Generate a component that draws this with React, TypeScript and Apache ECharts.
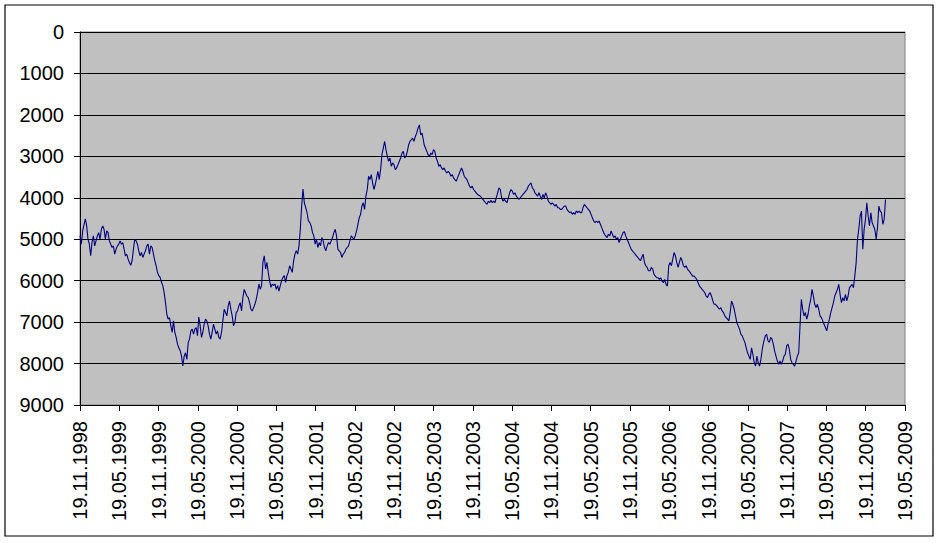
import React, { useEffect, useRef } from "react";
import * as echarts from "echarts";

// x positions are measured in half-years since 19.11.1998
const tickLabels = [
  "19.11.1998", "19.05.1999", "19.11.1999", "19.05.2000", "19.11.2000", "19.05.2001",
  "19.11.2001", "19.05.2002", "19.11.2002", "19.05.2003", "19.11.2003", "19.05.2004",
  "19.11.2004", "19.05.2005", "19.11.2005", "19.05.2006", "19.11.2006", "19.05.2007",
  "19.11.2007", "19.05.2008", "19.11.2008", "19.05.2009",
];

const STEP = 0.034; // spacing of the readings, in half-years (~6 days)

const seg1Start = 0;
const seg1 = [
  4920, 5120, 4800, 4650, 4510, 4680, 5000, 5120, 5400, 5080, 4920, 5160, 5040, 4920, 4840, 5000,
  4760, 4680, 4760, 5000, 4800, 4840, 5040, 5120, 5200, 5160, 5360, 5240, 5160, 5120, 5040, 5120,
  5080, 5240, 5400, 5360, 5480, 5560, 5630, 5520, 5240, 5000, 5040, 5120, 5280, 5400, 5320, 5440,
  5360, 5280, 5160, 5120, 5360, 5160, 5200, 5360, 5520, 5640, 5800, 5880, 5920, 6040, 6120, 6290,
  6530, 6810, 6930, 6890, 7090, 7250, 6970, 7250, 7370, 7530, 7620, 7690, 7820, 8060, 7820, 7740,
  7900, 7490, 7410, 7210, 7170, 7290, 7170, 7130,
];

const seg2Start = 2.99;
const seg2 = [
  7330, 6880, 7080, 7370, 7250, 7050, 6930, 6970, 7090, 7290, 7410, 7250, 7050, 7170, 7290, 7210,
  7370, 7410, 7250, 6970, 6690, 6770, 6850, 6610, 6490, 6690, 6850, 7090, 7010, 6770, 6730, 6610,
  6530, 6730, 6410, 6210, 6290, 6370, 6410, 6530, 6690, 6730, 6650, 6570, 6450, 6290, 6080, 6210,
  6120, 5560, 5400, 5720, 5560, 5800, 6000, 6160, 6080, 6120, 6080, 6210, 6120, 6250, 6120, 6000,
  5920, 5880, 6040, 5880, 5800, 5640, 5720, 5800, 5520, 5360, 5280, 5360, 5160, 4760, 4200, 3790,
  4120, 4230, 4350, 4550,
];

const seg3Start = 5.85;
const seg3 = [
  4600, 4680, 4840, 4920, 5120, 5000, 5200, 5080, 5160, 4960, 5040, 5200, 5280, 5160, 5080, 5120,
  5040, 4960, 4840, 4760, 4920, 5240, 5280, 5320, 5440, 5360, 5320, 5240, 5200, 5160, 5040, 4920,
  4960, 5000, 4920, 4800, 4640, 4480, 4400, 4200, 4120, 4280, 3960, 3800, 3480, 3560, 3440, 3640,
  3800, 3680, 3520, 3360, 3560, 3320, 2960, 2800, 2640, 2840, 3000, 3120, 3040, 3240, 3160, 3200,
  3320, 3280, 3200, 3120, 3040, 2920, 2880, 3040, 3000, 2880, 2720, 2640, 2600, 2560, 2640, 2520,
  2440, 2320, 2240, 2480, 2440, 2600,
];

const seg4Start = 8.76;
const seg4 = [
  2720, 2800, 2880, 2960, 3000, 2920, 2960, 2840, 2880, 3040, 3120, 3240, 3200, 3280, 3320, 3280,
  3360, 3400, 3360, 3400, 3480, 3440, 3520, 3560, 3600, 3520, 3440, 3360, 3280, 3360, 3480, 3520,
  3560, 3640, 3720, 3760, 3720, 3800, 3840, 3880, 3920, 3940, 3960, 4000, 4040, 4080, 4120, 4160,
  4080, 4120, 4060, 4120, 4080, 4120, 4000, 3880, 3760, 3800, 4000, 4080, 4040, 4080, 4120, 4000,
  3880, 3800, 3840, 3920, 3880, 3960, 4000, 4040, 4000, 3960, 3920, 3880, 3840, 3800, 3720, 3680,
  3640, 3760, 3800,
];

const seg5Start = 11.58;
const seg5 = [
  3880, 3920, 3960, 3880, 3960, 4040, 3920, 4000, 3880, 3960, 4080, 4120, 4160, 4120, 4160, 4200,
  4160, 4240, 4240, 4280, 4280, 4240, 4200, 4200, 4280, 4320, 4360, 4340, 4400, 4360, 4400, 4320,
  4360, 4320, 4360, 4360, 4240, 4160, 4200, 4240, 4280, 4320, 4400, 4480, 4560, 4600, 4560, 4600,
  4560, 4640, 4720, 4800, 4880, 4920, 4960, 4880, 4920, 4800, 4880, 4960, 4920, 5000, 4960, 5080,
  5000, 4920, 4840, 4820, 4920, 5000, 5080, 5160, 5240, 5280, 5320, 5360, 5400, 5440, 5480, 5520,
  5440, 5360, 5560, 5640, 5680, 5760,
];

const seg6Start = 14.51;
const seg6 = [
  5760, 5680, 5720, 5850, 5890, 5930, 5930, 5970, 5930, 6010, 6050, 5970, 6090, 6130, 5640, 5560,
  5640, 5480, 5320, 5400, 5560, 5680, 5560, 5440, 5520, 5640, 5680, 5640, 5720, 5760, 5800, 5850,
  5890, 5890, 5930, 5970, 6050, 6130, 6170, 6210, 6250, 6290, 6370, 6410, 6330, 6290, 6370, 6490,
  6570, 6570, 6610, 6650, 6690, 6650, 6730, 6770, 6850, 6890, 6930, 6970, 6770, 6490, 6570, 6690,
  6850, 7010, 7090, 7170, 7290, 7330, 7410, 7490, 7620, 7740, 7820, 7900, 7620, 7780, 7980, 8060,
  7820, 7980, 8060, 7900, 7660, 7490,
];

const seg7Start = 17.41;
const seg7 = [
  7490, 7330, 7290, 7450, 7490, 7370, 7410, 7530, 7700, 7820, 7940, 8020, 7940, 8020, 7940, 7820,
  7780, 7570, 7530, 7660, 7900, 7980, 8020, 8060, 7940, 7820, 7740, 7090, 6450, 6690, 6850, 6770,
  6930, 6810, 6610, 6450, 6210, 6370, 6570, 6650, 6570, 6690, 6850, 6890, 6970, 7050, 7130, 7210,
  7050, 6930, 6770, 6650, 6530, 6370, 6290, 6210, 6090, 6330, 6530, 6410, 6490, 6330, 6490, 6370,
  6170, 6130, 6090, 6170, 5890, 5570, 5000, 4760, 4440, 4320, 5240, 4760, 4520, 4120, 4440, 4680,
  4360, 4600, 4680, 4760, 5000, 4720, 4200, 4320, 4360, 4640, 4520, 4040,
];

const segments: [number, number[]][] = [
  [seg1Start, seg1], [seg2Start, seg2], [seg3Start, seg3], [seg4Start, seg4],
  [seg5Start, seg5], [seg6Start, seg6], [seg7Start, seg7],
];

const yTicks = [0, 1000, 2000, 3000, 4000, 5000, 6000, 7000, 8000, 9000];

export default function App() {
  const ref = useRef<HTMLDivElement>(null);

  useEffect(() => {
    if (!ref.current) return;
    const chart = echarts.init(ref.current, null, { renderer: "svg" });

    const data: [number, number][] = [];
    segments.forEach(([start, vals]) => {
      vals.forEach((v, i) => data.push([start + i * STEP, v]));
    });

    const font = "'Liberation Sans', Arial, sans-serif";

    chart.setOption({
      animation: false,
      backgroundColor: "#ffffff",
      grid: {
        left: 80,
        right: 34,
        top: 32,
        bottom: 138,
        show: true,
        backgroundColor: "#C0C0C0",
        borderColor: "#808080",
        borderWidth: 1,
      },
      graphic: [
        {
          type: "rect",
          silent: true,
          shape: { x: 5, y: 5, width: 928, height: 531 },
          style: { fill: "none", stroke: "#000000", lineWidth: 1.2 },
        },
      ],
      xAxis: {
        type: "value",
        min: 0,
        max: tickLabels.length - 1,
        interval: 1,
        axisLine: { show: true, onZero: false, lineStyle: { color: "#000000", width: 1 } },
        axisTick: { show: true, inside: false, length: 6, lineStyle: { color: "#000000" } },
        splitLine: { show: false },
        axisLabel: {
          rotate: 90,
          margin: 16,
          color: "#000000",
          fontFamily: font,
          fontSize: 20,
          formatter: (v: number) => tickLabels[Math.round(v)] ?? "",
        },
      },
      yAxis: {
        type: "value",
        inverse: true,
        min: yTicks[0],
        max: yTicks[yTicks.length - 1],
        interval: 1000,
        axisLine: { show: true, lineStyle: { color: "#000000", width: 1 } },
        axisTick: { show: true, inside: false, length: 6, lineStyle: { color: "#000000" } },
        splitLine: { show: true, lineStyle: { color: "#000000", width: 1 } },
        axisLabel: {
          margin: 16,
          color: "#000000",
          fontFamily: font,
          fontSize: 20,
          formatter: (v: number) => String(v),
        },
      },
      series: [
        {
          type: "line",
          data,
          showSymbol: false,
          symbol: "none",
          lineStyle: { color: "#000080", width: 1.1 },
          z: 5,
        },
      ],
    });

    return () => chart.dispose();
  }, []);

  return (
    <div
      ref={ref}
      style={{ position: "absolute", left: 0, top: 0, width: 939, height: 543, background: "#ffffff" }}
    />
  );
}
